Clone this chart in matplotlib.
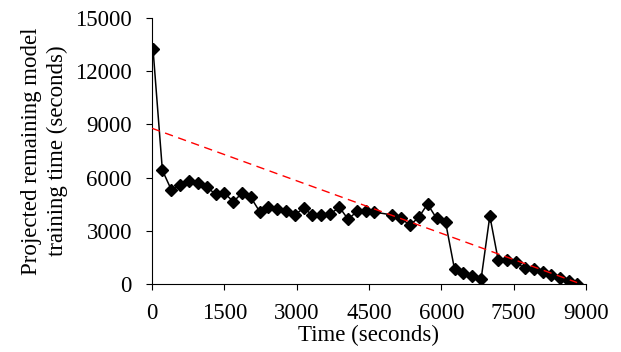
import matplotlib.pyplot as plt
import numpy as np

plt.rcParams['font.family'] = ['Liberation Serif', 'DejaVu Serif']

# measured points (time in seconds, projected remaining time in seconds)
time_s = [20, 215, 402, 589, 776, 954, 1141, 1322, 1502, 1689, 1867, 2048,
          2234, 2415, 2602, 2780, 2967, 3147, 3328, 3514, 3701, 3888, 4066,
          4253, 4440, 4606, 4979, 5160, 5346, 5533, 5714, 5900, 6087, 6274,
          6452, 6639, 6826, 7006, 7178, 7359, 7539, 7726, 7913, 8100, 8278,
          8465, 8645, 8817]
remaining_s = [13270, 6410, 5300, 5565, 5826, 5680, 5453, 5058, 5115, 4643,
               5132, 4889, 4078, 4342, 4229, 4100, 3908, 4286, 3874, 3874,
               3964, 4325, 3648, 4100, 4100, 4060, 3891, 3722, 3309, 3760,
               4511, 3704, 3496, 829, 637, 468, 299, 3835, 1370, 1370, 1222,
               902, 829, 660, 491, 321, 152, 0]

# linear trend line end points
trend_x = [0, 8817]
trend_y = [8780, 80]

xticks = [0, 1500, 3000, 4500, 6000, 7500, 9000]
yticks = [0, 3000, 6000, 9000, 12000, 15000]

fig = plt.figure(figsize=(6.21, 3.52), dpi=100)
ax = fig.add_axes([0.2448, 0.1932, 0.9436 - 0.2448, 0.9489 - 0.1932])

ax.plot(trend_x, trend_y, color='#ff0000', linestyle=(0, (6, 4)), linewidth=1.0, zorder=3)
ax.plot(time_s, remaining_s, color='black', linewidth=1.1, marker='D',
        markersize=6.5, zorder=2)

ax.set_xlim(0, 9000)
ax.set_ylim(0, 15000)
ax.set_xticks(xticks)
ax.set_yticks(yticks)
ax.tick_params(direction='out', length=4.5, width=0.8, labelsize=16.5)
ax.tick_params(axis='x', pad=9)
ax.tick_params(axis='y', pad=10)
ax.spines['top'].set_visible(False)
ax.spines['right'].set_visible(False)
ax.set_xlabel('Time (seconds)', fontsize=16.5, labelpad=1)
ax.set_ylabel('Projected remaining model\ntraining time (seconds)', fontsize=16.5,
              linespacing=1.3, labelpad=5)

fig.savefig('out.png', dpi=100)
